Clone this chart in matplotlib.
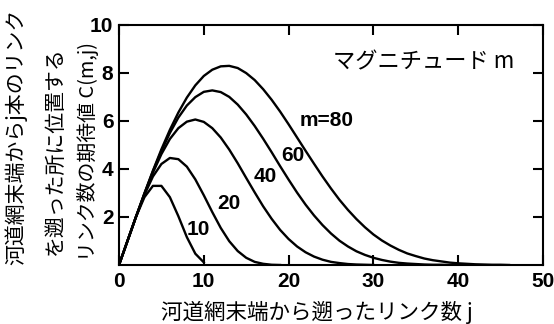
import matplotlib
matplotlib.use("Agg")
import matplotlib.pyplot as plt
import numpy as np

# Expected number of links C(m, j), read at j = 0, 1, 2, ...
c_m10 = [0, 1, 2, 2.82, 3.29, 3.29, 2.82, 2.03, 1.16, 0.47, 0.11]
c_m20 = [0, 1, 2, 2.92, 3.68, 4.20, 4.45, 4.40, 4.09, 3.56, 2.90, 2.20, 1.54,
         0.99, 0.58, 0.30, 0.13, 0.05, 0.01, 0.00]
c_m40 = [0, 1, 2, 2.96, 3.84, 4.61, 5.24, 5.69, 5.96, 6.05, 5.95, 5.69, 5.30,
         4.80, 4.23, 3.62, 3.02, 2.44, 1.92, 1.46, 1.08, 0.77, 0.53, 0.35,
         0.22, 0.13, 0.08, 0.04, 0.02, 0.01, 0.00]
c_m60 = [0, 1, 2, 2.97, 3.90, 4.74, 5.49, 6.13, 6.63, 6.98, 7.20, 7.26, 7.19,
         6.99, 6.67, 6.26, 5.78, 5.25, 4.69, 4.11, 3.55, 3.01, 2.51, 2.06,
         1.66, 1.31, 1.01, 0.77, 0.57, 0.42, 0.30, 0.21, 0.14, 0.09, 0.06,
         0.04, 0.02, 0.01, 0.01, 0.00, 0.00]
c_m80 = [0, 1, 2, 2.98, 3.92, 4.81, 5.62, 6.34, 6.96, 7.47, 7.86, 8.12, 8.26,
         8.28, 8.19, 7.98, 7.69, 7.31, 6.87, 6.38, 5.85, 5.30, 4.75, 4.21,
         3.68, 3.18, 2.71, 2.29, 1.91, 1.57, 1.27, 1.02, 0.81, 0.63, 0.48,
         0.37, 0.27, 0.20, 0.15, 0.10, 0.07, 0.05, 0.03, 0.02, 0.01, 0.01,
         0.00]
series = [c_m10, c_m20, c_m40, c_m60, c_m80]
curve_labels = ["10", "20", "40", "60", "m=80"]
label_pos = [(9.4, 1.47), (13.0, 2.55), (17.2, 3.70), (20.5, 4.57), (24.5, 5.99)]

x_ticks = [0, 10, 20, 30, 40, 50]
y_ticks = [2, 4, 6, 8, 10]

jp = ["Noto Sans CJK JP", "DejaVu Sans"]
lat = ["Liberation Sans", "DejaVu Sans"]

W, H = 554, 324
fig = plt.figure(figsize=(W / 100, H / 100), dpi=100)
ax = fig.add_axes([119 / W, 1 - 265 / H, (543 - 119) / W, (265 - 24.5) / H])

for vals in series:
    ax.plot(np.arange(len(vals)), vals, color="black", lw=1.7,
            solid_joinstyle="round")

ax.set_xlim(0, 50)
ax.set_ylim(0, 10)
ax.set_xticks(x_ticks)
ax.set_yticks(y_ticks)
ax.set_xticklabels([str(t) for t in x_ticks], family=lat, fontsize=15,
                   fontweight="bold")
ax.set_yticklabels([str(t) for t in y_ticks], family=lat, fontsize=15,
                   fontweight="bold")
ax.tick_params(direction="in", length=7, width=1.5, top=True, right=True)
ax.tick_params(axis="x", pad=5)
ax.tick_params(axis="y", pad=4)
for s in ax.spines.values():
    s.set_linewidth(1.5)

for lab, (lx, ly) in zip(curve_labels, label_pos):
    ax.text(lx, ly, lab, ha="center", va="center", fontsize=15, family=lat,
            fontweight="bold")

ax.text((424 - 119) / 424, (264.7 - 62) / 240.2, "マグニチュード m",
        transform=ax.transAxes, ha="center", va="center", fontsize=16,
        family=jp)

fig.text(317 / W, 1 - 312 / H, "河道網末端から遡ったリンク数 j", ha="center",
         va="center", fontsize=15.5, family=jp)

fig.text(16 / W, 1 - 265 / H, "河道網末端からj本のリンク", rotation=90,
         ha="center", va="bottom", fontsize=15, family=jp)
fig.text(55 / W, 1 - 255 / H, "を遡った所に位置する", rotation=90,
         ha="center", va="bottom", fontsize=15, family=jp)
fig.text(88 / W, 1 - 261 / H, "リンク数の期待値 C(m,j)", rotation=90,
         ha="center", va="bottom", fontsize=14.3, family=jp)

fig.savefig("out.png", dpi=100)
